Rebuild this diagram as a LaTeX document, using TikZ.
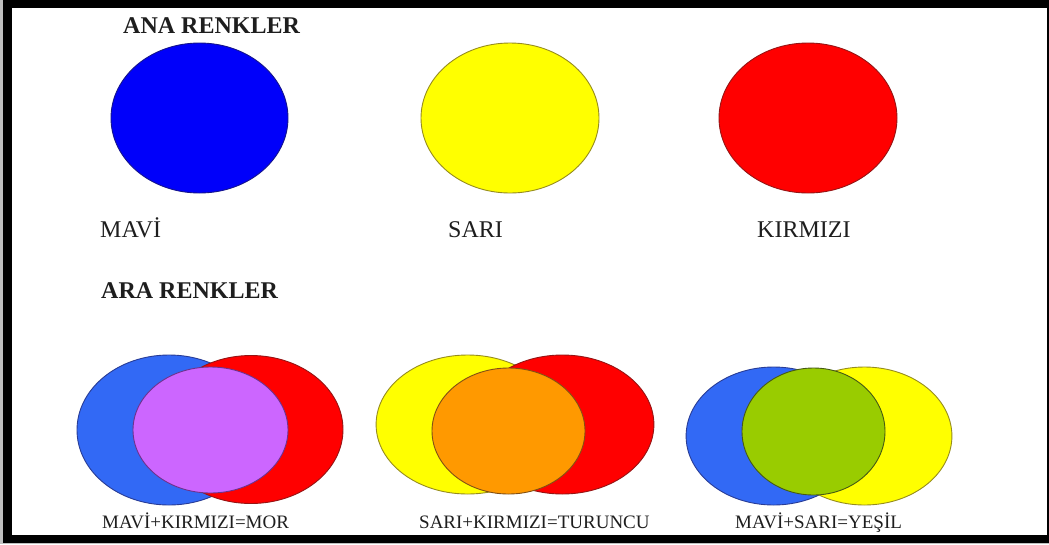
\documentclass[tikz,border=0pt]{standalone}
\usepackage{fontspec}
\setmainfont{Liberation Serif}
\usetikzlibrary{shapes.geometric}
\definecolor{pblue}{RGB}{0,0,250}
\definecolor{pblueline}{RGB}{20,20,140}
\definecolor{lblue}{RGB}{50,105,245}
\definecolor{lblueline}{RGB}{40,60,150}
\definecolor{pyellow}{RGB}{255,255,0}
\definecolor{yline}{RGB}{150,140,30}
\definecolor{pred}{RGB}{255,0,0}
\definecolor{rline}{RGB}{150,20,20}
\definecolor{ppurple}{RGB}{204,102,255}
\definecolor{purline}{RGB}{110,50,140}
\definecolor{porange}{RGB}{255,153,0}
\definecolor{oline}{RGB}{130,80,20}
\definecolor{pgreen}{RGB}{153,204,0}
\definecolor{gline}{RGB}{70,90,20}
\definecolor{txt}{RGB}{30,30,30}
\tikzset{
  blob/.style={ellipse, inner sep=0pt, line width=0.9pt},
  titletxt/.style={anchor=base west, inner sep=0pt, text=txt, font=\fontsize{24}{28}\selectfont\bfseries},
  colortxt/.style={anchor=base west, inner sep=0pt, text=txt, font=\fontsize{24}{28}\selectfont},
  mixtxt/.style={anchor=base west, inner sep=0pt, text=txt, font=\fontsize{19}{22}\selectfont}
}
\begin{document}
\begin{tikzpicture}[x=1pt,y=-1pt]
\useasboundingbox (0,0) rectangle (1049,544);
% frame
\fill[gray!50] (0,0) rectangle (1049,544);
\fill[black] (3,0) rectangle (1049,543);
\fill[white] (12,8) rectangle (1047,535);
% top row
\node[titletxt] (ana) at (123,33) {ANA RENKLER};
\node[blob, draw=pblueline, fill=pblue, minimum width=177pt, minimum height=150pt] (mavi) at (199.5,118) {};
\node[blob, draw=yline, fill=pyellow, minimum width=178pt, minimum height=150pt] (sari) at (510,118) {};
\node[blob, draw=rline, fill=pred, minimum width=178pt, minimum height=150pt] (kirmizi) at (808,118) {};
\node[colortxt] (lmavi) at (100,237) {MAVİ};
\node[colortxt] (lsari) at (448,237) {SARI};
\node[colortxt] (lkirmizi) at (757,237) {KIRMIZI};
\node[titletxt] (ara) at (101,298) {ARA RENKLER};
% group 1: blue + red = purple
\node[blob, draw=lblueline, fill=lblue, minimum width=184pt, minimum height=150pt] (g1b) at (169,430) {};
\node[blob, draw=rline, fill=pred, minimum width=184pt, minimum height=148pt] (g1r) at (251,429.5) {};
\node[blob, draw=purline, fill=ppurple, minimum width=155pt, minimum height=126pt] (g1p) at (210.5,430) {};
\node[mixtxt] (l1) at (102,528) {MAVİ+KIRMIZI=MOR};
% group 2: yellow + red = orange
\node[blob, draw=yline, fill=pyellow, minimum width=183pt, minimum height=139pt] (g2y) at (467.6,424.5) {};
\node[blob, draw=rline, fill=pred, minimum width=183pt, minimum height=139pt] (g2r) at (562.4,424.5) {};
\node[blob, draw=oline, fill=porange, minimum width=153pt, minimum height=126pt] (g2o) at (508.5,431) {};
\node[mixtxt] (l2) at (419,528) {SARI+KIRMIZI=TURUNCU};
% group 3: blue + yellow = green
\node[blob, draw=lblueline, fill=lblue, minimum width=175pt, minimum height=138pt] (g3b) at (773.6,436) {};
\node[blob, draw=yline, fill=pyellow, minimum width=175pt, minimum height=138pt] (g3y) at (864.4,436) {};
\node[blob, draw=gline, fill=pgreen, minimum width=143pt, minimum height=127pt] (g3g) at (813.5,431.5) {};
\node[mixtxt] (l3) at (735,528) {MAVİ+SARI=YEŞİL};
\end{tikzpicture}
\end{document}
